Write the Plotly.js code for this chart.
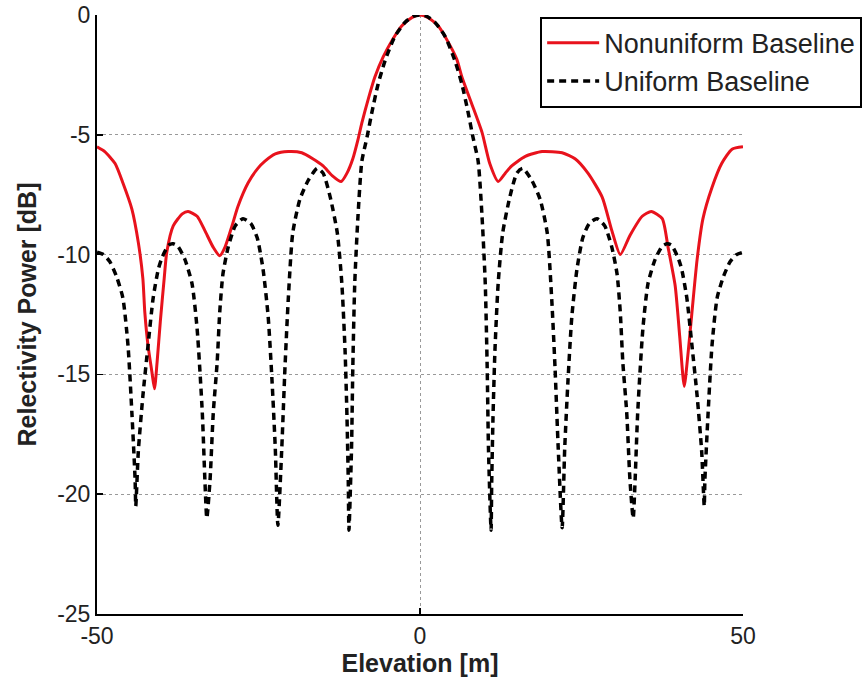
<!DOCTYPE html>
<html>
<head>
<meta charset="utf-8">
<script src="https://cdn.plot.ly/plotly-3.0.1.min.js"></script>
<style>html,body{margin:0;padding:0;background:#fff;}#chart{width:864px;height:686px;}</style>
</head>
<body>
<div id="chart"></div>
<script>
// Uniform baseline (dashed black)
var uniformX = [-50,-49,-48,-47,-46,-45.2,-44.6,-44.1,-44.0,-43.6,-42.9,-42.1,-41.3,-40.5,-39.9,-38.9,-38.2,-37.5,-36.4,-35.3,-34.5,-33.7,-33.3,-33.0,-32.5,-32.0,-31.4,-31.0,-30.5,-29.7,-28.6,-27.4,-26.2,-25.2,-24.3,-23.5,-22.9,-22.4,-22.0,-21.4,-20.9,-20.4,-19.7,-18.6,-17.3,-15.9,-15.0,-13.9,-12.8,-12.1,-11.6,-11.3,-11.1,-11.0,-10.6,-10.4,-10.1,-9.6,-9.0,-8.2,-7.4,-6.5,-5.4,-3.9,-2.3,-1.0,0,
  1.0,2.3,3.9,5.4,6.5,7.4,8.2,9.0,9.6,10.1,10.4,10.6,11.0,11.1,11.3,11.6,12.1,12.8,13.9,15.0,15.9,17.3,18.6,19.7,20.4,20.9,21.4,22.0,22.4,22.9,23.5,24.3,25.2,26.2,27.4,28.6,29.7,30.5,31.0,31.4,32.0,32.5,33.0,33.3,33.7,34.5,35.3,36.4,37.5,38.2,38.9,39.9,40.5,41.3,42.1,42.9,43.6,44.0,44.1,44.6,45.2,46,47,48,49,50];
var uniformY = [-9.9,-10.0,-10.3,-10.9,-11.8,-13.8,-16.6,-19.4,-20.5,-18.2,-15.9,-13.8,-11.8,-10.6,-10.1,-9.6,-9.55,-9.65,-10.2,-11.2,-13.1,-16.6,-19.4,-21.0,-19.4,-16.6,-14.5,-12.4,-10.8,-9.7,-8.8,-8.5,-8.7,-9.3,-10.6,-12.6,-15.3,-18.1,-21.3,-18.1,-14.7,-11.9,-9.1,-7.7,-6.9,-6.4,-6.6,-7.6,-9.1,-11.2,-14.0,-16.8,-19.5,-21.5,-18.1,-14.7,-11.2,-8.4,-6.1,-5.1,-4.0,-2.9,-1.9,-0.9,-0.3,-0.05,0,
  -0.05,-0.3,-0.9,-1.9,-2.9,-4.0,-5.1,-6.1,-8.4,-11.2,-14.7,-18.1,-21.5,-19.5,-16.8,-14.0,-11.2,-9.1,-7.6,-6.6,-6.4,-6.9,-7.7,-9.1,-11.9,-14.7,-18.1,-21.4,-18.1,-15.3,-12.6,-10.6,-9.3,-8.7,-8.5,-8.8,-9.7,-10.8,-12.4,-14.5,-16.6,-19.4,-21.0,-19.4,-16.6,-13.1,-11.2,-10.2,-9.65,-9.55,-9.6,-10.1,-10.6,-11.8,-13.8,-15.9,-18.2,-20.5,-19.4,-16.6,-13.8,-11.8,-10.9,-10.3,-10.0,-9.9];

// Nonuniform baseline (solid red)
var nonuniformX = [-50,-48.8,-47.2,-46.0,-44.6,-43.6,-42.9,-42.6,-42.1,-41.5,-41.1,-40.7,-40.2,-39.6,-39.2,-38.2,-36.8,-35.9,-34.5,-33.3,-32.0,-31.0,-30.2,-29.1,-28.2,-26.6,-25.1,-24.0,-22.4,-20.4,-18.3,-16.6,-15.0,-13.6,-12.2,-11.3,-10.4,-9.6,-9.0,-8.0,-7.0,-5.7,-4.3,-2.8,-1.2,0,
  1.2,2.8,4.3,5.7,6.5,8.0,9.6,10.8,12.1,13.2,14.2,16.3,18.9,22.0,24.0,26.0,28.2,29.7,31.0,32.5,34.4,35.8,37.5,38.4,39.5,40.2,40.9,41.5,42.1,42.9,43.8,45.2,46.7,48.3,50];
var nonuniformY = [-5.5,-5.7,-6.2,-7.0,-8.1,-9.5,-11.0,-12.4,-13.8,-14.9,-15.6,-14.5,-12.8,-11.0,-9.9,-8.8,-8.3,-8.2,-8.4,-9.0,-9.7,-10.05,-9.7,-8.8,-8.0,-7.0,-6.4,-6.1,-5.8,-5.7,-5.75,-6.0,-6.3,-6.7,-6.95,-6.6,-6.0,-5.2,-4.5,-3.5,-2.6,-1.75,-1.05,-0.45,-0.1,0,
  -0.1,-0.45,-1.1,-1.85,-2.6,-3.7,-4.9,-6.2,-6.95,-6.6,-6.3,-5.9,-5.7,-5.75,-6.0,-6.6,-7.6,-9.0,-10.0,-9.2,-8.4,-8.2,-8.5,-9.7,-11.3,-13.4,-15.5,-14.1,-12.4,-10.2,-8.5,-7.2,-6.2,-5.6,-5.5];

var xTicks = [-50, 0, 50];
var yTicks = [-25, -20, -15, -10, -5, 0];

var traces = [
  {x: nonuniformX, y: nonuniformY, type: 'scatter', mode: 'lines', name: 'Nonuniform Baseline',
   line: {color: 'rgb(232,18,28)', width: 3, shape: 'spline', smoothing: 0.6}},
  {x: uniformX, y: uniformY, type: 'scatter', mode: 'lines', name: 'Uniform Baseline',
   line: {color: '#000', width: 3.5, dash: '7px,5px', shape: 'spline', smoothing: 0.6}}
];

var layout = {
  width: 864, height: 686,
  margin: {l: 97, r: 121, t: 15, b: 72, autoexpand: false},
  paper_bgcolor: '#fff', plot_bgcolor: '#fff',
  font: {family: 'Liberation Sans, Arial, sans-serif', color: '#222'},
  showlegend: true,
  legend: {x: 0.686, xanchor: 'left', y: 0.997, yanchor: 'top',
    bgcolor: '#fff', bordercolor: '#000', borderwidth: 2,
    font: {size: 27, color: '#222'}, itemwidth: 52, tracegroupgap: 0},
  xaxis: {range: [-50, 50], tickvals: xTicks, ticktext: xTicks.map(String),
    showline: true, linecolor: '#000', linewidth: 2, mirror: false,
    ticks: 'inside', ticklen: 6, tickcolor: '#000', tickwidth: 1.5,
    showgrid: true, gridcolor: '#999', griddash: 'dot', gridwidth: 1,
    zeroline: false, tickfont: {size: 23, color: '#222'},
    title: {text: '<b>Elevation [m]</b>', standoff: 4, font: {size: 25, color: '#222'}}},
  yaxis: {range: [-25, 0], tickvals: yTicks, ticktext: yTicks.map(String),
    showline: true, linecolor: '#000', linewidth: 2, mirror: false,
    ticks: 'inside', ticklen: 6, tickcolor: '#000', tickwidth: 1.5,
    showgrid: true, gridcolor: '#999', griddash: 'dot', gridwidth: 1,
    zeroline: false, tickfont: {size: 23, color: '#222'},
    title: {text: '<b>Relectivity Power [dB]</b>', font: {size: 25, color: '#222'}}}
};

Plotly.newPlot('chart', traces, layout, {staticPlot: true});
</script>
</body>
</html>
